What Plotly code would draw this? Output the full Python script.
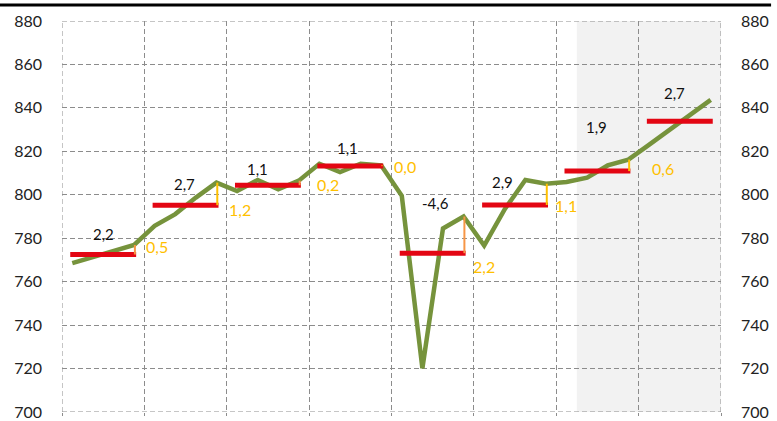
import plotly.graph_objects as go

# ---- data ----
quarterly = [768.5, 771.3, 774.0, 776.9,
             785.7, 791.1, 798.7, 805.6,
             801.7, 806.8, 802.5, 806.5,
             814.3, 810.4, 814.3, 813.5,
             799.5, 720.1, 784.5, 790.0,
             776.6, 793.4, 806.8, 805.1,
             805.9, 807.9, 813.5, 816.2,
             823.0, 830.0, 837.0, 843.7]
annual_avg = [772.5, 795.2, 804.4, 813.2, 773.1, 795.3, 810.9, 833.8]
growth_labels = ["2,2", "2,7", "1,1", "1,1", "-4,6", "2,9", "1,9", "2,7"]
carry_labels = ["0,5", "1,2", "0,2", "0,0", "2,2", "1,1", "0,6"]
y_ticks = [700, 720, 740, 760, 780, 800, 820, 840, 860, 880]

n_years = len(annual_avg)
FONT = "Lato"
GREEN = "#76933C"
RED = "#E30613"
YELLOW = "#FFC000"
ORANGE = "#F79646"
GRID = "#8C8C8C"
DASH = "5px,3px"

qx = [i / 4 + 0.125 for i in range(len(quarterly))]

fig = go.Figure()

# shaded forecast region
fig.add_shape(type="rect", xref="x", yref="y", x0=6.25, x1=8, y0=700, y1=880,
              fillcolor="#F2F2F2", line_width=0, layer="below")

# boundary grid lines (dashed)
for xv in (0, n_years):
    fig.add_shape(type="line", xref="x", yref="y", x0=xv, x1=xv, y0=700, y1=880,
                  line=dict(color=GRID, width=1, dash=DASH), layer="below")
for yv in (700, 880):
    fig.add_shape(type="line", xref="x", yref="y", x0=0, x1=n_years, y0=yv, y1=yv,
                  line=dict(color=GRID, width=1, dash=DASH), layer="below")

# annual average bars
bx, by = [], []
for i, v in enumerate(annual_avg):
    bx += [i + 0.1, i + 0.9, None]
    by += [v, v, None]

# green quarterly line
fig.add_trace(go.Scatter(x=qx, y=quarterly, mode="lines",
                         line=dict(color=GREEN, width=4.5), hoverinfo="skip"))
fig.add_trace(go.Scatter(x=bx, y=by, mode="lines",
                         line=dict(color=RED, width=5), hoverinfo="skip"))

# carry-over ticks
for i in range(len(carry_labels)):
    q4 = quarterly[i * 4 + 3]
    col = ORANGE if i in (0, 2, 4) else YELLOW
    fig.add_trace(go.Scatter(x=[i + 0.885, i + 0.885], y=[annual_avg[i], q4],
                             mode="lines", line=dict(color=col, width=2),
                             hoverinfo="skip"))

# growth labels (black)
g_pos = [(0.5, 9.4), (1.49, 9.6), (2.37, 7.3), (3.46, 8.5),
         (4.53, 23.0), (5.35, 10.8), (6.49, 20.4), (7.44, 13.0)]
for i, t in enumerate(growth_labels):
    x, dy = g_pos[i]
    fig.add_annotation(x=x, y=annual_avg[i] + dy, text=t, showarrow=False,
                       font=dict(family=FONT, size=15, color="#111111"))

# carry-over labels (yellow)
c_pos = [(1.15, 3.5), (2.16, -1.9), (3.23, 0.4), (4.16, -0.2),
         (5.12, -6.2), (6.12, -0.4), (7.29, 1.3)]
for i, t in enumerate(carry_labels):
    x, dy = c_pos[i]
    fig.add_annotation(x=x, y=annual_avg[i] + dy, text=t, showarrow=False,
                       font=dict(family=FONT, size=16, color=YELLOW))

# top rule
fig.add_shape(type="line", xref="paper", yref="paper", x0=-62/658, x1=708/658,
              y0=1.0 + 16/391, y1=1.0 + 16/391, line=dict(color="#000000", width=3))

axis_common = dict(range=[700, 880], tickvals=y_ticks, showline=False, zeroline=False,
                   tickfont=dict(family=FONT, size=16, color="#222222"),
                   ticks="", ticklabelstandoff=19, automargin=False,
                   ticklabeloverflow="allow")

fig.update_layout(
    width=777, height=421,
    margin=dict(l=62, r=56, t=21, b=9, autoexpand=False),
    paper_bgcolor="white", plot_bgcolor="rgba(0,0,0,0)",
    showlegend=False,
    xaxis=dict(range=[0, 8], tickvals=list(range(0, 9)), showticklabels=False,
               showgrid=True, gridcolor=GRID, griddash=DASH, gridwidth=1,
               zeroline=False, showline=False, ticks="outside", ticklen=3,
               tickcolor=GRID, automargin=False),
    yaxis=dict(showgrid=True, gridcolor=GRID, griddash=DASH, gridwidth=1,
               **axis_common),
    yaxis2=dict(overlaying="y", side="right", showgrid=False, **axis_common),
)
# invisible trace to activate right axis
fig.add_trace(go.Scatter(x=[0], y=[700], yaxis="y2", mode="markers",
                         marker=dict(opacity=0), hoverinfo="skip"))

fig.write_html("out.html", config={"displayModeBar": False},
               post_script="document.body.style.margin='0';"
                           "document.body.style.overflow='hidden';")
